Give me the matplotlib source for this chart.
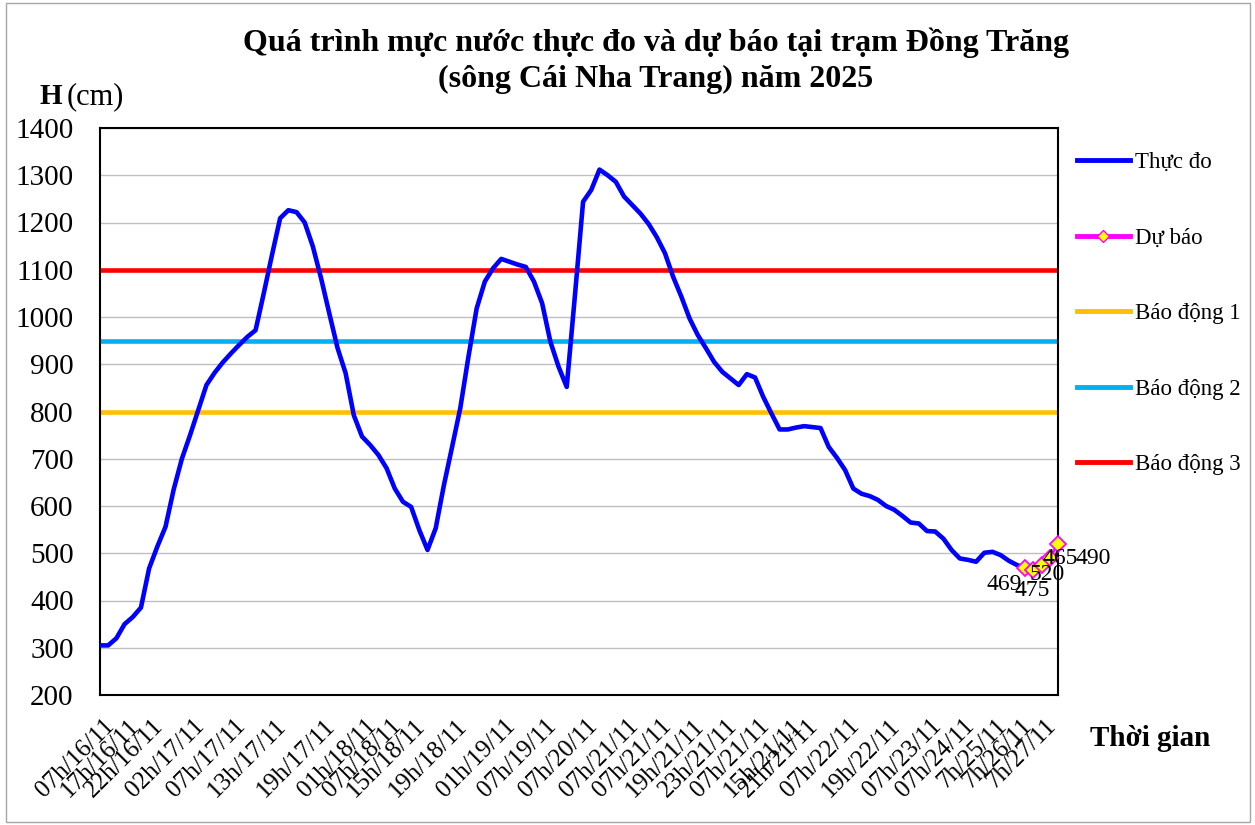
import matplotlib
matplotlib.use('Agg')
import matplotlib.pyplot as plt
from matplotlib.lines import Line2D
from matplotlib.patches import Rectangle
from matplotlib.transforms import ScaledTranslation

plt.rcParams['font.family'] = ['Liberation Serif', 'DejaVu Serif']

# ---------------- data ----------------
actual = [305, 305, 320, 350, 365, 385, 468, 514, 556, 635,
          700, 750, 803, 856, 882, 904, 923, 941, 958, 972,
          1050, 1131, 1209, 1226, 1222, 1200, 1149, 1082, 1008, 935,
          881, 792, 747, 729, 708, 680, 637, 609, 598, 549,
          507, 553, 644, 725, 807, 916, 1018, 1075, 1103, 1123,
          1117, 1111, 1106, 1075, 1029, 948, 895, 852, 1045, 1244,
          1269, 1312, 1300, 1286, 1255, 1237, 1219, 1197, 1169, 1135,
          1085, 1043, 997, 962, 934, 905, 884, 870, 856, 879,
          872, 831, 796, 762, 762, 766, 769, 767, 765, 725,
          702, 676, 637, 626, 621, 613, 600, 592, 579, 565,
          563, 547, 546, 531, 507, 489, 486, 482, 501, 503,
          496, 484, 475, 469]
forecast = [469, 465, 475, 490, 520]
forecast_labels = ['469', '475', '520', '465', '490']

alert1 = 800
alert2 = 950
alert3 = 1100

tick_pos = [1, 4, 7, 12, 17, 22, 28, 33, 36, 39, 44, 50, 55, 60,
            65, 69, 73, 77, 81, 85, 87, 92, 97, 102, 106, 110, 113, 116]
tick_labels = ['07h/16/11', '17h/16/11', '22h/16/11', '02h/17/11', '07h/17/11',
               '13h/17/11', '19h/17/11', '01h/18/11', '07h/18/11', '15h/18/11',
               '19h/18/11', '01h/19/11', '07h/19/11', '07h/20/11', '07h/21/11',
               '07h/21/11', '19h/21/11', '23h/21/11', '07h/21/11', '15h/21/11',
               '21h/21/11', '07h/22/11', '19h/22/11', '07h/23/11', '07h/24/11',
               '7h/25/11', '7h/26/11', '7h/27/11']

title_line1 = 'Quá trình mực nước thực đo và dự báo tại trạm Đồng Trăng'
title_line2 = '(sông Cái Nha Trang) năm 2025'

# ---------------- figure ----------------
W, H = 1255, 825
fig = plt.figure(figsize=(W / 100, H / 100), dpi=100)
ax = fig.add_axes([100 / W, 1 - 695 / H, 958 / W, 567 / H])

n_act = len(actual)
x_act = list(range(n_act))
x_fc = list(range(n_act - 1, n_act - 1 + len(forecast)))

ax.set_xlim(0, x_fc[-1])
ax.set_ylim(200, 1400)
ax.set_yticks(range(200, 1401, 100))
ax.grid(axis='y', color='#BFBFBF', lw=1)
ax.set_axisbelow(True)

ax.axhline(alert1, color='#FFC000', lw=3.3, zorder=2)
ax.axhline(alert2, color='#00B0F0', lw=3.3, zorder=2)
ax.axhline(alert3, color='#FF0000', lw=3.3, zorder=2)

ax.plot(x_act, actual, color='#0000FF', lw=3.3, zorder=3,
        solid_joinstyle='round', solid_capstyle='round')
ax.plot(x_fc, forecast, color='#FF00FF', lw=2, zorder=4, marker='D', ms=8.5,
        mfc='#FFFF00', mec='#FF00FF', mew=1.3, clip_on=False)

offsets = [(-21, -17), (-1, -21), (6, -9), (10, -1), (35, -15)]
for xi, yi, lab, off in zip(x_fc, forecast, forecast_labels, offsets):
    ax.annotate(lab, (xi, yi), xytext=off, textcoords='offset pixels',
                ha='center', va='center', fontsize=17, zorder=6,
                annotation_clip=False)

for s in ax.spines.values():
    s.set_color('#000000')
    s.set_linewidth(1.5)

ax.tick_params(axis='y', length=0, pad=19, labelsize=21)
ax.set_xticks(tick_pos)
ax.set_xticklabels(tick_labels, rotation=45, ha='right', va='center',
                   rotation_mode='anchor', fontsize=18)
ax.tick_params(axis='x', length=0, pad=20)
shift = ScaledTranslation(3 / 100, 0, fig.dpi_scale_trans)
for lab in ax.get_xticklabels():
    lab.set_transform(lab.get_transform() + shift)

# titles and axis captions
fig.text(656 / W, 1 - 43 / H, title_line1, ha='center', va='center',
         fontsize=23, fontweight='bold')
fig.text(656 / W, 1 - 79 / H, title_line2, ha='center', va='center',
         fontsize=23, fontweight='bold')
fig.text(40 / W, 1 - 97 / H, 'H', ha='left', va='center', fontsize=21,
         fontweight='bold')
fig.text(67 / W, 1 - 97 / H, '(cm)', ha='left', va='center', fontsize=22)
fig.text(1090 / W, 1 - 739 / H, 'Thời gian', ha='left', va='center',
         fontsize=21, fontweight='bold')

handles = [
    Line2D([], [], color='#0000FF', lw=3.5),
    Line2D([], [], color='#FF00FF', lw=3.5, marker='D', ms=6,
           mfc='#FFFF00', mec='#FF00FF', mew=1),
    Line2D([], [], color='#FFC000', lw=3.5),
    Line2D([], [], color='#00B0F0', lw=3.5),
    Line2D([], [], color='#FF0000', lw=3.5),
]
labels = ['Thực đo', 'Dự báo', 'Báo động 1', 'Báo động 2', 'Báo động 3']
fig.legend(handles, labels, loc='upper left',
           bbox_to_anchor=(1077 / W, 1 - 152 / H), frameon=False,
           fontsize=16.5, labelspacing=2.38, handlelength=2.3,
           handletextpad=0.25, borderaxespad=0, borderpad=0)

fig.patches.append(Rectangle((6 / W, 3 / H), 1244 / W, 819 / H,
                             transform=fig.transFigure, fill=False,
                             ec='#A6A6A6', lw=1))

fig.savefig('out.png', dpi=100)
